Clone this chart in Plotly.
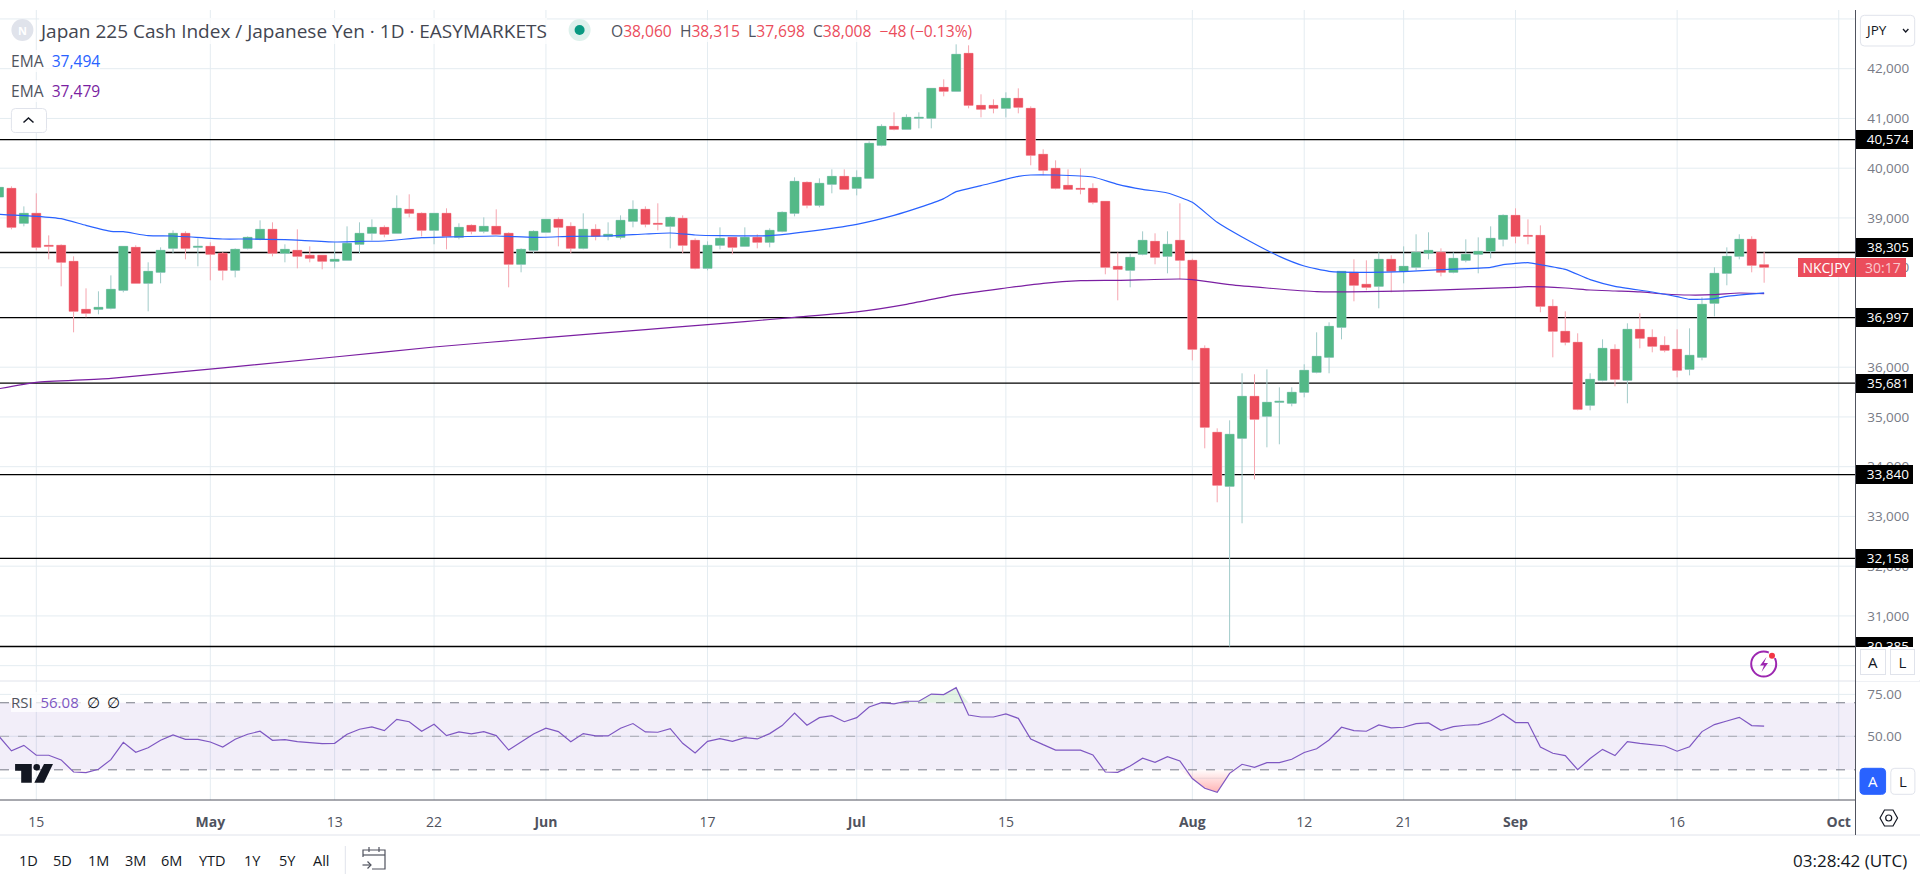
# -*- coding: utf-8 -*-
"""Japan 225 / JPY daily chart with EMAs and RSI, drawn in Plotly."""

import numpy as np
import plotly.graph_objects as go
from plotly.subplots import make_subplots

W, H = 1920, 882
FONT = "Open Sans"

bar_index = list(range(-3, 140))

opens = [39421, 39595, 38892, 39093, 38450, 38450, 38128, 37163, 37163, 37183,
         37545, 38409, 37686, 37907, 38389, 38691, 38409, 38429, 38289, 37947,
         38389, 38570, 38771, 38289, 38349, 38249, 38249, 38128, 38148, 38470,
         38691, 38811, 38691, 39173, 39093, 38751, 39093, 38610, 38851, 38731,
         38831, 38691, 38068, 38349, 38711, 38972, 38831, 38389, 38771, 38630,
         38610, 38932, 39173, 38892, 38831, 38992, 38550, 37987, 38450, 38610,
         38429, 38610, 38510, 38731, 39093, 39716, 39254, 39676, 39836, 39595,
         39796, 40460, 40841, 40781, 41002, 41002, 41625, 41545, 42309, 41263,
         41263, 41203, 41404, 41203, 40279, 39997, 39655, 39595, 39595, 39334,
         38027, 37947, 38269, 38530, 38228, 38550, 38148, 36379, 34691, 33605,
         34570, 35414, 35012, 35294, 35274, 35495, 35897, 36198, 36801, 37907,
         37666, 37625, 38168, 37927, 38007, 38289, 38309, 37907, 38148, 38269,
         38329, 38570, 39052, 38650, 38650, 37223, 36721, 36500, 35234, 35736,
         36359, 35736, 36761, 36600, 36439, 36359, 35957, 36198, 37284, 37887,
         38228, 38570, 38060]
highs = [39620, 39635, 39233, 39495, 38650, 38470, 38228, 37585, 37525, 37846,
         38429, 38450, 38108, 38409, 38751, 38731, 38590, 38510, 38315, 38389,
         38630, 38952, 38912, 38470, 38771, 38429, 38249, 38510, 38831, 38912,
         38972, 38851, 39454, 39475, 39113, 39093, 39193, 38892, 38872, 39012,
         39173, 38711, 38389, 38751, 38972, 39012, 38912, 39093, 38872, 38912,
         39052, 39354, 39233, 39294, 39032, 39052, 38590, 38530, 38811, 38610,
         38811, 38671, 38791, 39133, 39816, 39736, 39796, 39977, 39977, 39957,
         40540, 40882, 41123, 41083, 41123, 41605, 41786, 42490, 42470, 41485,
         41384, 41525, 41605, 41243, 40379, 40158, 39977, 39997, 39696, 39334,
         38309, 38289, 38731, 38691, 38731, 39294, 38181, 36439, 34771, 34932,
         35877, 35857, 35957, 35595, 35595, 36058, 36701, 36902, 37927, 38168,
         38148, 38309, 38249, 38429, 38671, 38711, 38389, 38309, 38570, 38610,
         38831, 39073, 39193, 38972, 38851, 37364, 37123, 36681, 35877, 36560,
         36460, 36882, 37083, 36761, 36620, 36761, 36781, 37404, 38007, 38409,
         38671, 38630, 38315]
lows = [39415, 38771, 38831, 38349, 38168, 37625, 36701, 37002, 37063, 37163,
        37505, 37686, 37123, 37686, 38289, 38168, 38027, 37746, 37746, 37806,
        38369, 38550, 38228, 38108, 37987, 38108, 37967, 37987, 38148, 38289,
        38550, 38610, 38691, 39012, 38630, 38470, 38369, 38570, 38671, 38691,
        38671, 37605, 37907, 38289, 38711, 38429, 38289, 38369, 38550, 38550,
        38570, 38811, 38811, 38751, 38389, 38289, 37967, 37947, 38369, 38269,
        38429, 38389, 38409, 38711, 39032, 39193, 39213, 39495, 39575, 39454,
        39796, 40439, 40761, 40781, 40801, 40801, 41444, 41545, 41203, 41022,
        41103, 41022, 41103, 40058, 39857, 39575, 39575, 39475, 39274, 37867,
        37344, 37605, 38249, 38068, 37887, 37766, 36138, 34369, 33284, 30385,
        32862, 33746, 34389, 34450, 35213, 35394, 35877, 35877, 36560, 37324,
        37545, 37183, 37505, 37686, 37947, 38168, 37826, 37887, 38108, 37887,
        38188, 38429, 38490, 38470, 37103, 36198, 36439, 35133, 35133, 35716,
        35615, 35274, 36379, 36299, 36299, 35796, 35836, 36138, 37022, 37646,
        38168, 37907, 37698]
closes = [39615, 38811, 39093, 38409, 38429, 38108, 37123, 37083, 37203, 37565,
          38429, 37686, 37927, 38349, 38691, 38389, 38429, 38269, 37947, 38369,
          38610, 38771, 38289, 38369, 38228, 38188, 38128, 38168, 38490, 38691,
          38811, 38671, 39193, 39093, 38751, 39093, 38630, 38811, 38731, 38831,
          38671, 38068, 38369, 38731, 38972, 38811, 38389, 38771, 38630, 38671,
          38952, 39173, 38872, 38872, 39012, 38450, 37987, 38450, 38590, 38409,
          38610, 38510, 38751, 39113, 39736, 39254, 39696, 39836, 39575, 39816,
          40500, 40841, 40781, 41022, 41022, 41605, 41545, 42289, 41263, 41183,
          41203, 41404, 41223, 40258, 39957, 39595, 39575, 39575, 39314, 38007,
          37967, 38208, 38550, 38208, 38470, 38148, 36359, 34791, 33626, 34651,
          35414, 34952, 35294, 35314, 35495, 35937, 36218, 36821, 37927, 37646,
          37605, 38168, 37927, 38027, 38309, 38349, 37907, 38188, 38269, 38329,
          38590, 39052, 38630, 38630, 37223, 36721, 36500, 35153, 35756, 36379,
          35756, 36761, 36580, 36419, 36339, 35937, 36239, 37264, 37887, 38228,
          38570, 38047, 38008]

ema_fast_index = [-3, 0, 2, 4, 6, 7, 9, 11, 15, 17, 20, 24, 26, 28, 31, 33, 37, 40, 43, 46,
                  49, 51, 53, 55, 59, 62, 66, 69, 71, 73, 74, 76, 79, 80, 82, 85, 87, 89,
                  91, 93, 95, 97, 100, 102, 104, 107, 110, 113, 117, 118, 120, 121, 123,
                  125, 127, 130, 132, 133, 135, 136, 139]
ema_fast = [39073, 39032, 38985, 38851, 38731, 38724, 38644, 38637, 38577, 38577, 38563,
            38516, 38530, 38537, 38604, 38617, 38637, 38610, 38630, 38637, 38677, 38697,
            38657, 38644, 38644, 38724, 38872, 39052, 39207, 39388, 39528, 39649, 39836,
            39863, 39863, 39823, 39676, 39575, 39501, 39314, 38912, 38617, 38228, 38034,
            37927, 37907, 37920, 37960, 38007, 38061, 38101, 38061, 37967, 37759, 37625,
            37512, 37418, 37364, 37378, 37424, 37494]

ema_slow_index = [-3, 0, 6, 24, 32, 41, 49, 54, 57, 61, 66, 70, 74, 78, 81, 84, 87, 92, 93,
                  96, 99, 103, 107, 112, 119, 120, 123, 125, 127, 129, 131, 133, 135, 137, 139]
ema_slow = [35568, 35696, 35776, 36205, 36406, 36594, 36754, 36855, 36915, 37002, 37110,
            37264, 37458, 37592, 37686, 37739, 37746, 37773, 37759, 37659, 37592, 37518,
            37518, 37545, 37605, 37619, 37592, 37552, 37532, 37512, 37471, 37451, 37458,
            37491, 37479]

rsi = [50.0, 41.3, 44.6, 38.7, 38.7, 35.9, 28.7, 28.3, 30.3, 36.1, 46.4, 40.5, 43.2, 47.6,
       50.8, 48.2, 48.2, 46.6, 43.6, 48.2, 51.2, 53.0, 47.6, 48.0, 46.8, 46.4, 45.6, 45.8,
       51.2, 54.2, 55.6, 53.4, 60.1, 58.7, 53.0, 57.2, 50.4, 52.6, 51.4, 52.8, 50.4, 41.8,
       46.6, 51.4, 54.8, 52.8, 46.8, 51.6, 50.2, 50.2, 54.8, 57.6, 52.6, 52.4, 54.6, 45.8,
       40.1, 47.0, 48.6, 47.0, 49.2, 48.4, 51.6, 56.4, 63.9, 56.6, 61.1, 62.3, 58.7, 61.1,
       67.5, 70.1, 69.3, 70.9, 70.9, 75.2, 74.9, 79.0, 62.7, 61.5, 61.5, 63.3, 60.7, 48.4,
       45.0, 41.8, 41.8, 41.7, 38.9, 28.7, 28.5, 32.3, 36.9, 34.5, 37.9, 35.3, 24.8, 19.0,
       16.6, 27.9, 33.3, 31.5, 34.3, 34.3, 36.3, 40.3, 42.6, 47.8, 55.4, 53.4, 53.0, 56.8,
       55.0, 55.4, 57.6, 58.0, 53.6, 55.8, 56.6, 57.0, 59.3, 63.3, 58.2, 58.2, 43.6, 39.9,
       38.5, 30.1, 36.7, 42.2, 38.5, 46.8, 45.8, 44.8, 44.2, 41.1, 43.8, 52.8, 57.0, 59.1,
       61.3, 56.4, 56.08]

levels = [40574, 38305, 36997, 35681, 33840, 32158, 30385]

date_ticks = [0, 14, 24, 32, 41, 54, 66, 78, 93, 102, 110, 119, 132, 145]
date_labels = ["15", "<b>May</b>", "13", "22", "<b>Jun</b>", "17", "<b>Jul</b>", "15", "<b>Aug</b>",
               "12", "21", "<b>Sep</b>", "16", "<b>Oct</b>"]
price_ticks = list(range(30000, 44000, 1000))
price_labels = ["", "31,000", "32,000", "33,000", "34,000", "35,000", "36,000", "37,000", "38,000",
                "39,000", "40,000", "41,000", "42,000", ""]
rsi_ticks = [25, 50, 75]
rsi_labels = ["", "50.00", "75.00"]

RED, GREEN = "#EB4D5C", "#53B987"
RED_WICK, GREEN_WICK = "#F6A5AF", "#A1CBC9"
BLUE, PURPLE = "#2962FF", "#7B1FA2"
GRID = "#E4ECF1"
AXIS_DARK = "#50535E"
BORDER = "#E0E3EB"
TEXT = "#50535E"


def fx(px):
    return px / W


def fy(py):
    return 1 - py / H


def label(fig, px, py, text, size=14, color=TEXT, anchor="left", **kw):
    fig.add_annotation(xref="paper", yref="paper", x=fx(px), y=fy(py), text=text, showarrow=False,
                       xanchor=anchor, yanchor="middle", borderpad=0, borderwidth=0,
                       font=dict(family=FONT, size=size, color=color), **kw)


def line_px(fig, x0, y0, x1, y1, color, width=1):
    fig.add_shape(type="line", xref="paper", yref="paper", x0=fx(x0), y0=fy(y0), x1=fx(x1), y1=fy(y1),
                  line=dict(color=color, width=width), layer="above")


def poly_px(points, close=True):
    d = "M " + " L ".join(f"{fx(x):.5f} {fy(y):.5f}" for x, y in points)
    return d + (" Z" if close else "")


def path_px(fig, points, fill=None, color=None, width=1, close=True):
    fig.add_shape(type="path", xref="paper", yref="paper", path=poly_px(points, close), layer="above",
                  fillcolor=fill if fill else "rgba(0,0,0,0)",
                  line=dict(color=color if color else "rgba(0,0,0,0)", width=width))


def circle_px(fig, cx, cy, r, fill=None, color=None, width=1):
    fig.add_shape(type="circle", xref="paper", yref="paper", layer="above",
                  x0=fx(cx - r), x1=fx(cx + r), y0=fy(cy + r), y1=fy(cy - r),
                  fillcolor=fill if fill else "rgba(0,0,0,0)",
                  line=dict(color=color if color else "rgba(0,0,0,0)", width=width))


def round_rect(fig, x0, y0, x1, y1, fill="#FFFFFF", color=BORDER, r=4):
    a, b, c, d = fx(x0), fx(x1), fy(y0), fy(y1)
    rx, ry = r / W, r / H
    path = (f"M {a+rx:.5f} {c:.5f} L {b-rx:.5f} {c:.5f} Q {b:.5f} {c:.5f} {b:.5f} {c-ry:.5f} "
            f"L {b:.5f} {d+ry:.5f} Q {b:.5f} {d:.5f} {b-rx:.5f} {d:.5f} "
            f"L {a+rx:.5f} {d:.5f} Q {a:.5f} {d:.5f} {a:.5f} {d+ry:.5f} "
            f"L {a:.5f} {c-ry:.5f} Q {a:.5f} {c:.5f} {a+rx:.5f} {c:.5f} Z")
    fig.add_shape(type="path", xref="paper", yref="paper", path=path, fillcolor=fill,
                  line=dict(color=color, width=1), layer="above")


fig = make_subplots(rows=2, cols=1, vertical_spacing=0)

# wicks first, bodies on top so the wick can stay lighter than the body
fig.add_trace(go.Candlestick(x=bar_index, open=opens, high=highs, low=lows, close=closes,
                             increasing=dict(line=dict(color=GREEN_WICK, width=1), fillcolor=GREEN_WICK),
                             decreasing=dict(line=dict(color=RED_WICK, width=1), fillcolor=RED_WICK),
                             showlegend=False), row=1, col=1)
body_hi = np.maximum(opens, closes)
body_lo = np.minimum(opens, closes)
fig.add_trace(go.Candlestick(x=bar_index, open=opens, high=body_hi, low=body_lo, close=closes,
                             increasing=dict(line=dict(color=GREEN, width=0), fillcolor=GREEN),
                             decreasing=dict(line=dict(color=RED, width=0), fillcolor=RED),
                             showlegend=False), row=1, col=1)

fig.add_trace(go.Scatter(x=ema_slow_index, y=ema_slow, mode="lines",
                         line=dict(color=PURPLE, width=1.2, shape="spline", smoothing=0.5),
                         showlegend=False), row=1, col=1)
fig.add_trace(go.Scatter(x=ema_fast_index, y=ema_fast, mode="lines",
                         line=dict(color=BLUE, width=1.2, shape="spline", smoothing=0.5),
                         showlegend=False), row=1, col=1)

# RSI pane: traces go in first, add_hline skips a subplot that is still empty
rsi_arr = np.array(rsi)
fig.add_trace(go.Scatter(x=bar_index, y=[30] * len(rsi), mode="lines", line=dict(width=0),
                         showlegend=False), row=2, col=1)
fig.add_trace(go.Scatter(x=bar_index, y=np.minimum(rsi_arr, 30), mode="lines", line=dict(width=0),
                         fill="tonexty",
                         fillgradient=dict(type="vertical", start=30, stop=16,
                                           colorscale=[[0, "rgba(255,82,82,0.02)"], [1, "rgba(255,82,82,0.45)"]]),
                         showlegend=False), row=2, col=1)
fig.add_trace(go.Scatter(x=bar_index, y=[70] * len(rsi), mode="lines", line=dict(width=0),
                         showlegend=False), row=2, col=1)
fig.add_trace(go.Scatter(x=bar_index, y=np.maximum(rsi_arr, 70), mode="lines", line=dict(width=0),
                         fill="tonexty", fillcolor="rgba(76,175,80,0.15)", showlegend=False), row=2, col=1)
fig.add_trace(go.Scatter(x=bar_index, y=rsi, mode="lines", line=dict(color="#7E57C2", width=1.2),
                         showlegend=False), row=2, col=1)

# grid as shapes: the axis grid would paint over the black levels
for tick in date_ticks:
    fig.add_vline(x=tick, line_color=GRID, line_width=1, layer="below", row="all", col=1)
for tick in price_ticks:
    fig.add_hline(y=tick, line_color=GRID, line_width=1, layer="below", row=1, col=1)
for tick in rsi_ticks:
    fig.add_hline(y=tick, line_color=GRID, line_width=1, layer="below", row=2, col=1)

for level in levels:
    fig.add_hline(y=level, line_color="#000000", line_width=1.3, layer="below", row=1, col=1)

fig.add_hrect(y0=30, y1=70, fillcolor="rgba(126,87,194,0.1)", line_width=0, layer="below", row=2, col=1)
for lvl, col in [(70, "#787B86"), (50, "#A6A8B0"), (30, "#787B86")]:
    fig.add_hline(y=lvl, line_color=col, line_width=1, line_dash="dash", layer="below", row=2, col=1)

plot_right = 1855.5 / W
x_range = [-2.92, 146.35]
axis_common = dict(showgrid=False, zeroline=False, showline=False)
fig.update_xaxes(range=x_range, tickmode="array", tickvals=date_ticks, ticktext=date_labels,
                 rangeslider_visible=False, domain=[0, plot_right], **axis_common)
fig.update_xaxes(showticklabels=False, row=1, col=1)
fig.update_xaxes(ticks="outside", ticklen=9, tickcolor="rgba(0,0,0,0)",
                 tickfont=dict(family=FONT, size=14, color=TEXT), row=2, col=1)
yfont = dict(family=FONT, size=13.5, color="#787B86")
fig.update_yaxes(side="right", range=[29692, 43180], tickmode="array", tickvals=price_ticks,
                 ticktext=price_labels, ticks="outside", ticklen=8, tickcolor="rgba(0,0,0,0)",
                 tickfont=yfont, domain=[fy(681), fy(10)], **axis_common, row=1, col=1)
fig.update_yaxes(side="right", range=[12.0, 82.98], tickmode="array", tickvals=rsi_ticks,
                 ticktext=rsi_labels, ticks="outside", ticklen=8, tickcolor="rgba(0,0,0,0)",
                 tickfont=yfont, domain=[fy(800), fy(681)], **axis_common, row=2, col=1)

# pane separators
line_px(fig, 0, 681, W, 681, BORDER)
line_px(fig, 0, 800, 1855.5, 800, AXIS_DARK)
line_px(fig, 0, 835, W, 835, BORDER)
line_px(fig, 1855.5, 10, 1855.5, 835, AXIS_DARK)

# price labels on the axis; the 38,305 one is nudged up to clear the live price tag
for level in levels:
    fig.add_annotation(xref="paper", yref="y", x=fx(1884), y=level, text="&nbsp;&nbsp;" + f"{level:,}",
                       showarrow=False, bgcolor="#000000", width=57, height=18.5, borderpad=0, borderwidth=0,
                       xanchor="center", yanchor="middle", yshift=5 if level == 38305 else 0,
                       font=dict(family=FONT, size=13.5, color="#FFFFFF"))
# the lowest label runs into the bottom of the pane
label(fig, 1856, 663.8, "&nbsp;", width=63, height=34, bgcolor="#FFFFFF")

# live price tag
fig.add_annotation(xref="paper", yref="y", x=fx(1798.4), y=closes[-1], text="NKCJPY", showarrow=False,
                   bgcolor=RED, width=57, height=19, borderpad=0, borderwidth=0, xanchor="left",
                   font=dict(family=FONT, size=14, color="#FFFFFF"))
fig.add_annotation(xref="paper", yref="y", x=fx(1856), y=closes[-1], text="&nbsp;30:17", showarrow=False,
                   bgcolor=RED, width=50, height=19, borderpad=0, borderwidth=0, xanchor="left",
                   font=dict(family=FONT, size=14, color="#F9C9CE"))

# header legend
circle_px(fig, 22.4, 30, 11, fill="#E0E3EB")
label(fig, 22.4, 30.5, "<b>N</b>", size=11, color="#FFFFFF", anchor="center")
label(fig, 38.8, 31, "Japan 225 Cash Index / Japanese Yen · 1D · EASYMARKETS", size=19, color="#434651",
      bgcolor="rgba(255,255,255,0.75)")
circle_px(fig, 579.6, 30, 11, fill="#DDF1EC")
circle_px(fig, 579.6, 30, 5, fill="#089981")
g = '<span style="color:#50535E">{}</span>'
r = '<span style="color:#EB4D5C">{}</span>'
ohlc_text = (g.format("O") + r.format("38,060") + "  " + g.format("H") + r.format("38,315") + "  "
             + g.format("L") + r.format("37,698") + "  " + g.format("C") + r.format("38,008")
             + "  " + r.format("−48 (−0.13%)"))
label(fig, 611.4, 31, ohlc_text, size=15.6, bgcolor="rgba(255,255,255,0.75)")

label(fig, 11.4, 61, 'EMA  <span style="color:#2962FF">37,494</span>', size=15.6, bgcolor="rgba(255,255,255,0.75)")
label(fig, 11.4, 91, 'EMA  <span style="color:#7B1FA2">37,479</span>', size=15.6, bgcolor="rgba(255,255,255,0.75)")
round_rect(fig, 11.4, 108.5, 46.5, 132.5)
path_px(fig, [(23.5, 122.5), (28.5, 118), (33.5, 122.5)], color="#131722", width=1.5, close=False)

# RSI legend
label(fig, 10.6, 702, 'RSI  <span style="color:#7E57C2">56.08</span>  <span style="color:#131722">∅  ∅</span>',
      size=15, bgcolor="rgba(255,255,255,0.75)")

# TradingView mark
path_px(fig, [(15.1, 764), (31.8, 764), (31.8, 782.7), (21.2, 782.7), (21.2, 770.7), (15.1, 770.7)], fill="#131722")
circle_px(fig, 36.7, 767.2, 3.3, fill="#131722")
path_px(fig, [(44, 764), (53, 764), (44, 782.7), (34.3, 782.7)], fill="#131722")

# currency button
round_rect(fig, 1860.4, 15.3, 1914.7, 46)
label(fig, 1876, 30, "JPY", size=13.5, color="#131722", anchor="center")
path_px(fig, [(1903, 29), (1905.7, 32), (1908.4, 29)], color="#131722", width=1.3, close=False)

# scale buttons, the top pair are annotations so they sit over the label mask
fig.add_annotation(xref="paper", yref="paper", x=fx(1872.8), y=fy(662.3), text="A", showarrow=False,
                   xanchor="center", yanchor="middle",
                   bgcolor="#FFFFFF", bordercolor=BORDER, borderwidth=1, borderpad=0, width=24, height=24,
                   font=dict(family=FONT, size=15, color="#131722"))
fig.add_annotation(xref="paper", yref="paper", x=fx(1902.8), y=fy(662.3), text="L", showarrow=False,
                   xanchor="center", yanchor="middle",
                   bgcolor="#FFFFFF", bordercolor=BORDER, borderwidth=1, borderpad=0, width=23, height=24,
                   font=dict(family=FONT, size=15, color="#131722"))
round_rect(fig, 1860, 768.3, 1885.6, 794.3, fill="#2962FF", color="#2962FF")
label(fig, 1872.8, 781.3, "A", size=15, color="#FFFFFF", anchor="center")
round_rect(fig, 1890.8, 768.3, 1914.9, 794.3)
label(fig, 1902.8, 781.3, "L", size=15, color="#131722", anchor="center")

# settings hexagon
path_px(fig, [(1880, 818), (1884.5, 810), (1893, 810), (1897.5, 818), (1893, 826), (1884.5, 826)],
        color="#131722", width=1.2)
circle_px(fig, 1888.7, 818, 3, color="#131722", width=1.2)

# flash icon
circle_px(fig, 1763.7, 664, 12.5, color="#9C27B0", width=2)
circle_px(fig, 1773, 654, 4.5, fill="#FFFFFF")
circle_px(fig, 1772, 655.7, 3, fill="#F23645")
path_px(fig, [(1766.5, 657), (1760, 665.5), (1764, 665.5), (1761.5, 672), (1768, 663), (1764, 663)], fill="#9C27B0")

# bottom toolbar
range_buttons = ["1D", "5D", "1M", "3M", "6M", "YTD", "1Y", "5Y", "All"]
range_centers = [28, 62.4, 98.8, 135, 171.4, 212.7, 252.7, 287, 321.6]
for name, cx in zip(range_buttons, range_centers):
    label(fig, cx, 860, name, size=14.5, color="#131722", anchor="center")
line_px(fig, 345.3, 846, 345.3, 874, BORDER)
path_px(fig, [(363, 857), (363, 850), (385, 850), (385, 869), (372, 869)], color="#50535E", width=1.2, close=False)
line_px(fig, 363, 855, 385, 855, "#50535E", 1.2)
line_px(fig, 369, 847, 369, 852, "#50535E", 1.2)
line_px(fig, 379, 847, 379, 852, "#50535E", 1.2)
path_px(fig, [(362.5, 865), (371, 865)], color="#50535E", width=1.2, close=False)
path_px(fig, [(367.5, 861.5), (371, 865), (367.5, 868.5)], color="#50535E", width=1.2, close=False)
label(fig, 1907, 860, "03:28:42 (UTC)", size=17, color="#131722", anchor="right")

fig.update_layout(width=W, height=H, autosize=False, margin=dict(l=0, r=0, t=0, b=0),
                  paper_bgcolor="#FFFFFF", plot_bgcolor="#FFFFFF", showlegend=False,
                  boxgap=0.28, boxgroupgap=0, hovermode=False, font=dict(family=FONT))

fig.write_html("out.html", config={"displayModeBar": False},
               post_script="document.body.style.margin='0';document.body.style.overflow='hidden';")
